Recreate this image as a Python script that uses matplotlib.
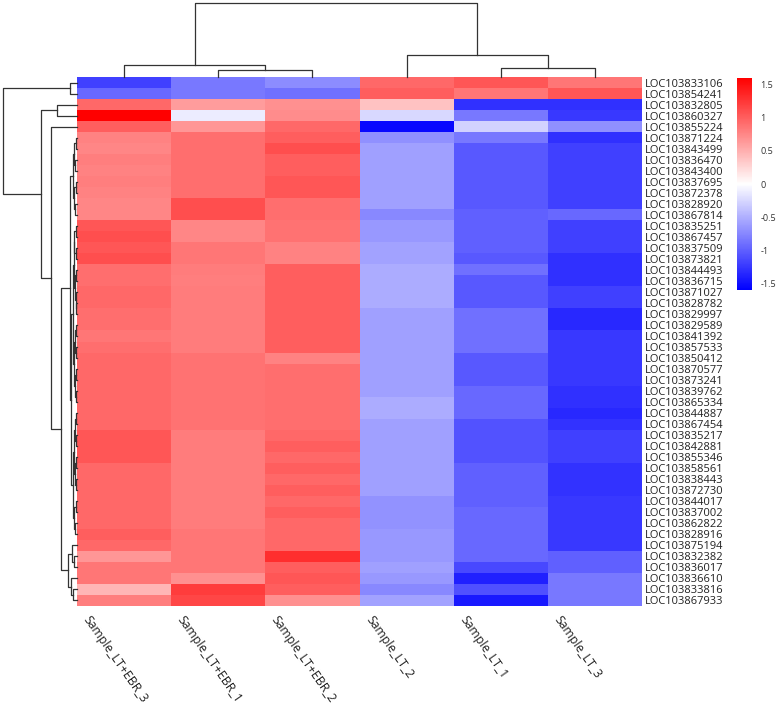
import numpy as np
import matplotlib
matplotlib.use('Agg')
from matplotlib import pyplot as plt
from matplotlib.colors import LinearSegmentedColormap

samples = ['Sample_LT+EBR_3', 'Sample_LT+EBR_1', 'Sample_LT+EBR_2',
           'Sample_LT_2', 'Sample_LT_1', 'Sample_LT_3']

genes = ['LOC103833106', 'LOC103854241', 'LOC103832805', 'LOC103860327',
         'LOC103855224', 'LOC103871224', 'LOC103843499', 'LOC103836470',
         'LOC103843400', 'LOC103837695', 'LOC103872378', 'LOC103828920',
         'LOC103867814', 'LOC103835251', 'LOC103867457', 'LOC103837509',
         'LOC103873821', 'LOC103844493', 'LOC103836715', 'LOC103871027',
         'LOC103828782', 'LOC103829997', 'LOC103829589', 'LOC103841392',
         'LOC103857533', 'LOC103850412', 'LOC103870577', 'LOC103873241',
         'LOC103839762', 'LOC103865334', 'LOC103844887', 'LOC103867454',
         'LOC103835217', 'LOC103842881', 'LOC103855346', 'LOC103858561',
         'LOC103838443', 'LOC103872730', 'LOC103844017', 'LOC103837002',
         'LOC103862822', 'LOC103828916', 'LOC103875194', 'LOC103832382',
         'LOC103836017', 'LOC103836610', 'LOC103833816', 'LOC103867933']

# z-scores per column, in display order
ebr_3 = [-1.2, -0.95, 0.95, 1.6, 1.0, 0.78, 0.75, 0.8, 0.78, 0.8, 0.78, 0.75,
         0.75, 1.05, 1.1, 1.05, 1.1, 0.9, 0.9, 0.95, 0.95, 0.9, 0.9, 0.85,
         0.9, 0.95, 0.95, 0.95, 0.95, 0.95, 0.95, 0.95, 1.05, 1.05, 1.05, 0.95,
         0.95, 0.95, 0.95, 0.95, 0.95, 1.0, 0.95, 0.65, 0.85, 0.85, 0.45, 0.8]
ebr_1 = [-0.85, -0.85, 0.62, -0.12, 0.65, 0.9, 0.9, 0.9, 0.9, 0.9, 0.9, 1.1,
         1.1, 0.75, 0.75, 0.85, 0.85, 0.82, 0.8, 0.82, 0.82, 0.82, 0.82, 0.82,
         0.82, 0.88, 0.88, 0.88, 0.88, 0.88, 0.88, 0.88, 0.82, 0.82, 0.82, 0.82,
         0.82, 0.82, 0.82, 0.82, 0.82, 0.85, 0.85, 0.85, 0.85, 0.7, 1.22, 1.15]
ebr_2 = [-0.72, -0.9, 0.7, 0.72, 0.95, 1.0, 1.1, 1.0, 1.0, 1.05, 1.05, 0.9,
         0.9, 0.88, 0.88, 0.78, 0.78, 1.0, 1.0, 1.0, 1.0, 1.0, 1.0, 1.0,
         1.0, 0.78, 0.9, 0.9, 0.9, 0.9, 0.9, 0.9, 0.95, 1.0, 0.95, 1.0,
         0.95, 1.0, 0.95, 1.0, 0.95, 0.95, 0.95, 1.3, 1.0, 1.05, 1.0, 0.7]
lt_2 = [0.95, 1.0, 0.38, -0.25, -1.55, -0.7, -0.6, -0.6, -0.6, -0.6, -0.6, -0.6,
        -0.75, -0.65, -0.65, -0.58, -0.58, -0.52, -0.52, -0.52, -0.52, -0.6, -0.6, -0.6,
        -0.6, -0.6, -0.6, -0.6, -0.6, -0.52, -0.52, -0.6, -0.6, -0.6, -0.6, -0.6,
        -0.6, -0.6, -0.68, -0.68, -0.68, -0.65, -0.65, -0.65, -0.6, -0.65, -0.75, -0.58]
lt_1 = [1.05, 0.85, -1.3, -0.85, -0.28, -0.85, -1.05, -1.05, -1.05, -1.05, -1.05, -1.05,
        -1.0, -1.0, -1.0, -1.0, -1.05, -0.9, -1.05, -1.05, -1.05, -0.9, -0.9, -0.9,
        -0.9, -1.05, -1.05, -1.05, -0.95, -0.95, -0.95, -1.08, -1.08, -1.08, -1.08, -1.0,
        -1.0, -1.0, -1.0, -0.95, -0.95, -0.95, -0.95, -0.95, -1.15, -1.4, -1.1, -1.45]
lt_3 = [0.85, 1.05, -1.3, -1.25, -0.7, -1.3, -1.2, -1.2, -1.2, -1.2, -1.2, -1.2,
        -0.95, -1.2, -1.2, -1.2, -1.3, -1.3, -1.3, -1.2, -1.2, -1.35, -1.35, -1.25,
        -1.25, -1.25, -1.25, -1.25, -1.3, -1.3, -1.35, -1.28, -1.2, -1.2, -1.2, -1.28,
        -1.28, -1.28, -1.25, -1.25, -1.25, -1.25, -1.25, -1.0, -1.0, -0.85, -0.85, -0.85]

# dendrograms as nested [left, right, height]
col_tree = [[0, [1, 2, 0.095], 0.16], [3, [4, 5, 0.12], 0.30], 1.0]

r1a = [[[5, 6, .02], [7, 8, .025], .04], [[9, 10, .02], [11, 12, .03], .045], .06]
r1b = [[[[[13, 14, .015], [15, 16, .02], .035],
         [[17, 18, .015], [19, [20, 21, .01], .02], .03], .045],
        [[[22, 23, .015], [24, 25, .02], .03],
         [[26, 27, .01], [28, 29, .015], .025], .04], .055],
       [[[[30, 31, .015], [32, 33, .02], .03],
         [[34, 35, .015], [36, 37, .02], .03], .04],
        [[38, 39, .02], [40, 41, .025], .035], .05], .075]
r2 = [[42, [43, 44, .04], .07], [45, [46, 47, .05], .08], .12]
rest = [[r1a, r1b, 0.095], r2, 0.22]
row_tree = [[0, 1, 0.095], [[2, 3, 0.27], [4, rest, 0.35], 0.49], 1.0]

data = np.array([ebr_3, ebr_1, ebr_2, lt_2, lt_1, lt_3]).T
cmap = LinearSegmentedColormap.from_list('bwr2', ['#0000ff', '#ffffff', '#ff0000'])
vmin, vmax = -1.6, 1.6
line_kw = dict(color='#333333', lw=0.9, clip_on=False)


def draw_tree(ax, node, vertical):
    # returns (leaf position, height) and draws the U links
    if isinstance(node, int):
        return node + 0.5, 0.0
    pl, hl = draw_tree(ax, node[0], vertical)
    pr, hr = draw_tree(ax, node[1], vertical)
    h = node[2]
    xs, ys = [pl, pl, pr, pr], [hl, h, h, hr]
    if vertical:
        ax.plot(ys, xs, **line_kw)
    else:
        ax.plot(xs, ys, **line_kw)
    return (pl + pr) / 2, h


W, H = 778, 708
fig = plt.figure(figsize=(W / 100, H / 100), dpi=100)
plt.rcParams['font.family'] = ['Open Sans', 'DejaVu Sans']

hm = fig.add_axes([77 / W, 1 - 606 / H, 565 / W, 529 / H])
hm.pcolormesh(data, cmap=cmap, vmin=vmin, vmax=vmax)
hm.set_xlim(0, len(samples))
hm.set_ylim(len(genes), 0)
for s in hm.spines.values():
    s.set_visible(False)
hm.yaxis.tick_right()
hm.set_yticks(np.arange(len(genes)) + 0.5)
hm.set_yticklabels(genes, fontsize=8.0, color='#222222')
hm.tick_params(axis='y', length=0, pad=2)
hm.set_xticks([])
for i, s in enumerate(samples):
    hm.text(i + 0.15, len(genes) + 0.7, s, rotation=-55, rotation_mode='anchor',
            ha='left', va='top', fontsize=8.8, color='#222222')

rd = fig.add_axes([3 / W, 1 - 606 / H, 74 / W, 529 / H])
draw_tree(rd, row_tree, vertical=True)
rd.set_ylim(len(genes), 0)
rd.set_xlim(1.0, 0)
rd.axis('off')

cd = fig.add_axes([77 / W, 1 - 77 / H, 565 / W, 74 / H])
draw_tree(cd, col_tree, vertical=False)
cd.set_xlim(0, len(samples))
cd.set_ylim(0, 1.0)
cd.axis('off')

cax = fig.add_axes([737 / W, 1 - 290 / H, 15 / W, 212 / H])
sm = plt.cm.ScalarMappable(cmap=cmap, norm=plt.Normalize(vmin, vmax))
cb = fig.colorbar(sm, cax=cax)
cb.outline.set_visible(False)
cb.set_ticks([1.5, 1, 0.5, 0, -0.5, -1, -1.5])
cb.set_ticklabels(['1.5', '1', '0.5', '0', '-0.5', '-1', '-1.5'])
cax.tick_params(length=0, pad=6, labelsize=6.5, labelcolor='#333333')

fig.savefig('out.png', dpi=100)
